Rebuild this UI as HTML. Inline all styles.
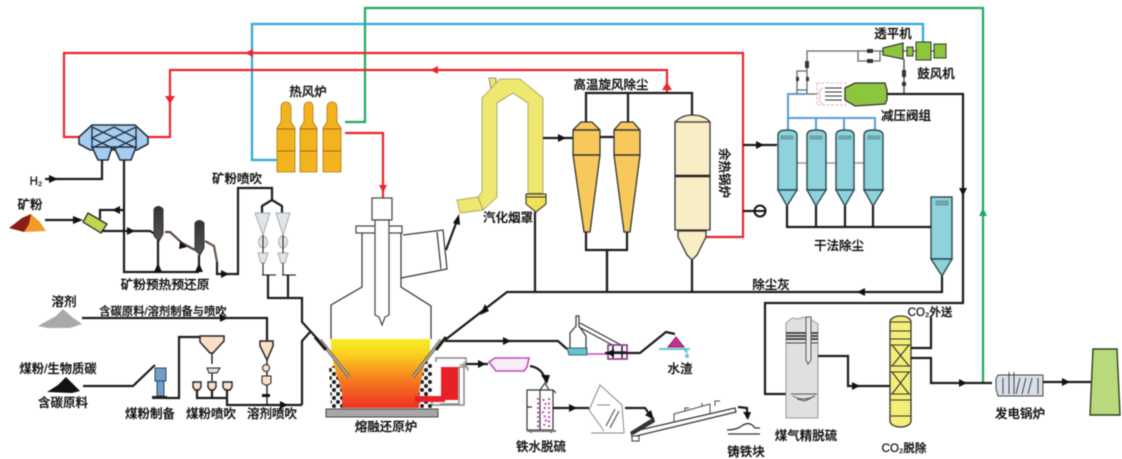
<!DOCTYPE html>
<html lang="zh"><head><meta charset="utf-8"><title>流程图</title>
<style>
html,body{margin:0;padding:0;background:#fff;width:1122px;height:459px;overflow:hidden}
svg{display:block;filter:blur(.6px)}
text{font-family:"Liberation Sans","Noto Sans CJK SC",sans-serif;font-size:12.5px;fill:#111;stroke:#111;stroke-width:.25;text-anchor:middle;font-weight:500}
.k{fill:none;stroke:#1c1c1c;stroke-width:2.2}
.t{fill:none;stroke:#333;stroke-width:1.2}
.g{fill:none;stroke:#666;stroke-width:1.3}
.r{fill:none;stroke:#e8262e;stroke-width:2.2}
.b{fill:none;stroke:#2ea9dc;stroke-width:2.2}
.gr{fill:none;stroke:#21a95c;stroke-width:2.2}
.lb{fill:none;stroke:#5b9bd5;stroke-width:2}
.p{fill:none;stroke:#c04fb0;stroke-width:1.6}
.bag{fill:#8ed2dc;stroke:#2c4a50;stroke-width:1.4}
.cy{fill:#f6c95a;stroke:#333;stroke-width:1.3}
.st{fill:#f2b31f;stroke:#a8791a;stroke-width:.8}
</style></head><body>
<svg width="1122" height="459" viewBox="0 0 1122 459" xmlns="http://www.w3.org/2000/svg">
<defs>
<linearGradient id="melt" x1="0" y1="0" x2="0" y2="1"><stop offset="0" stop-color="#f7ec25"/><stop offset=".2" stop-color="#fad51f"/><stop offset=".55" stop-color="#f6851f"/><stop offset="1" stop-color="#ee3124"/></linearGradient>
<pattern id="chk" width="8" height="8" patternUnits="userSpaceOnUse"><rect width="8" height="8" fill="#fff"/><circle cx="2" cy="2" r="2" fill="#222"/><circle cx="6" cy="6" r="2" fill="#222"/></pattern>
<linearGradient id="gc" x1="0" y1="0" x2="0" y2="1"><stop offset="0" stop-color="#333"/><stop offset="1" stop-color="#555"/></linearGradient>
</defs>

<!-- long utility lines -->
<path class="gr" d="M345 122H365V8H983V383"/>
<polygon points="983,208 979,216 987,216" fill="#21a95c"/>
<path class="b" d="M923 42V24H252V160H278"/>
<path class="r" d="M80 137H64V53H743V237H706"/>
<path class="r" d="M148 137H170V70H667V94"/>
<polygon points="170,104 165,96 175,96" fill="#e8262e"/>
<polygon points="667,82 662,90 672,90" fill="#e8262e"/>
<polygon points="245,53 253,49 253,57" fill="#e8262e"/>
<polygon points="430,70 438,66 438,74" fill="#e8262e"/>
<path class="r" d="M345 133H383V198"/>
<polygon points="383,193 379,185 387,185" fill="#e8262e"/>

<!-- shaft furnace / scrubber -->
<polygon points="92,125 135,125 148,137 148,144 137,150 90,150 79,144 79,137" fill="#a6cdef" stroke="#23303f" stroke-width="1.6"/>
<polygon points="92,147 112,147 108,160 98,160" fill="#a6cdef" stroke="#23303f" stroke-width="1.6"/>
<polygon points="114,147 136,147 131,160 120,160" fill="#a6cdef" stroke="#23303f" stroke-width="1.6"/>
<path d="M92 127L136 148M136 127L92 148M92 138L114 127L136 138L114 149ZM92 126V148M136 126V148" stroke="#23303f" stroke-width="1.4" fill="none"/>

<!-- ore section -->
<text x="36" y="185" style="font-size:11.5px">H₂</text>
<path class="k" d="M45 179H102V160M124 160V272H199"/>
<polygon points="58,179 49,175 49,183" fill="#111"/>
<polygon points="10,228 22,218 31,214 40,222 46,231 24,232" fill="#f29a2e"/>
<polygon points="9,228 22,218 31,214 29,224 24,232" fill="#8a1f17"/>
<text x="30" y="209">矿粉</text>
<path class="k" d="M45 220H80"/><polygon points="83,220 73,216 73,224" fill="#111"/>
<polygon points="88,213 107,224 101,233 83,222" fill="#bdd84e" stroke="#2a2a2a" stroke-width="1.3"/>
<path class="k" d="M100 219V210H124M102 231H150L158 236"/>
<polygon points="112,210 120,206 120,214" fill="#111"/>
<polygon points="135,231 127,227 127,235" fill="#111"/>
<path d="M154 209Q158 204 163 209V234L159 241L154 236Z" fill="url(#gc)" stroke="#333"/>
<path d="M195 223Q199 218 204 223V248L200 255L195 250Z" fill="url(#gc)" stroke="#333"/>
<path class="k" d="M158 240V272M199 255V272"/>
<polygon points="158,263 154,272 162,272" fill="#111"/>
<polygon points="199,263 195,272 203,272" fill="#111"/>
<path d="M165 232H170L182 243L195 250" fill="none" stroke="#5a4640" stroke-width="2.2"/>
<polygon points="187,247 180,241 179,249" fill="#111"/>
<path d="M205 241L214 246L217 262" fill="none" stroke="#6b544c" stroke-width="2.2"/>
<path class="k" d="M217 262V274H238V188H272V200L262 206V213M272 200L282 206V213"/>
<polygon points="229,274 221,270 221,278" fill="#111"/>
<text x="237" y="183">矿粉喷吹</text>
<text x="165" y="289" style="font-size:12.7px">矿粉预热预还原</text>
<g fill="#dfe6ea" stroke="#aaa">
<polygon points="255,213 270,213 263,235"/><polygon points="276,213 290,213 283,235"/>
<ellipse cx="263" cy="242" rx="4.5" ry="6"/><ellipse cx="283" cy="242" rx="4.5" ry="6"/>
<polygon points="258,253 268,253 265,263 261,263"/><polygon points="278,253 288,253 285,263 281,263"/>
</g>
<path class="t" d="M263 235V253M283 235V253M263 263V275M283 263V275M262 275H276M282 275H296"/>
<path class="k" d="M268 275V298M288 275V298M267 298H302V322L323 345M302 405V341L311 331"/>

<!-- flux / coal -->
<polygon points="38,326 56,316 63,309 72,317 82,324 70,328 48,328" fill="#a9a9a9"/>
<text x="64" y="306">溶剂</text>
<text x="163" y="315" style="font-size:11.3px">含碳原料/溶剂制备与喷吹</text>
<path class="k" d="M82 318H267V342"/><polygon points="228,318 220,314 220,322" fill="#111"/>
<text x="58" y="373" style="font-size:12.3px">煤粉/生物质碳</text>
<polygon points="47,392 58,385 66,377 80,391 72,393" fill="#111"/>
<text x="63" y="407">含碳原料</text>
<path class="k" d="M83 386H133L155 365"/>
<rect x="155" y="368" width="11" height="13" fill="#6f9fc8" stroke="#33485c"/>
<rect x="157" y="381" width="7" height="15" fill="#6f9fc8" stroke="#33485c"/>
<rect x="152" y="396" width="15" height="3" fill="#222"/>
<path class="k" d="M165 398H179V337H200"/>
<polygon points="200,336 224,336 224,341 213,353 210,353 200,342" fill="#fbe0c8" stroke="#222" stroke-width="1.5"/>
<path class="k" d="M212 353V364M212 372V381" style="stroke-width:1.4"/>
<path d="M207 368H220L217 373H209Z" fill="#ddd" stroke="#222"/>
<g fill="#fbe0c8" stroke="#222" stroke-width="1.4">
<path d="M193 382H201V387L199 390H195L193 387Z"/><path d="M208 382H216V387L214 390H210L208 387Z"/><path d="M223 382H232V387L230 390H225L223 387Z"/>
</g>
<path class="k" d="M197 390V398H227V405H302M212 390V398M227 390V398"/>
<polygon points="288,405 280,401 280,409" fill="#111"/>
<polygon points="260,341 273,341 273,346 267,360 260,346" fill="#fbe0c8" stroke="#222" stroke-width="1.5"/>
<path class="k" d="M267 360V405" style="stroke-width:1.4"/>
<circle cx="266" cy="368" r="3.5" fill="#fbe0c8" stroke="#222"/>
<path d="M262 376H271V383L268 385H265L262 383Z" fill="#fbe0c8" stroke="#222"/>
<rect x="262" y="394" width="8" height="3" fill="#111"/>
<text x="150" y="418">煤粉制备</text><text x="211" y="418">煤粉喷吹</text><text x="272" y="418">溶剂喷吹</text>

<!-- hot stoves -->
<g class="st">
<path d="M281 108Q281 102 286 102Q291 102 291 108V122L295 128V172H277V128L281 122Z"/>
<path d="M304 108Q304 102 309 102Q313 102 313 108V122L317 128V172H300V128L304 122Z"/>
<path d="M327 108Q327 102 332 102Q337 102 337 108V122L341 128V172H323V128L327 122Z"/>
</g>
<path d="M277 129H295M277 151H295M300 129H317M300 151H317M323 129H341M323 151H341" stroke="#9b6f15" stroke-width="1"/>
<text x="308" y="96">热风炉</text>

<!-- furnace -->
<polygon points="331,339 430,339 430,350 419,408 342,408 331,350" fill="url(#melt)"/>
<path class="t" d="M331 339V305L362 287V233M401 233V287L431 306V339M403 235L443 230L447 269L401 278V287M437 232L441 269" stroke="#444"/>
<rect x="356" y="226" width="46" height="7" fill="#fff" stroke="#444" stroke-width="1.2"/>
<rect x="372" y="198" width="20" height="22" fill="#fff" stroke="#444" stroke-width="1.2"/>
<path d="M375 220H389V315L385 317L382 325L379 317L375 315Z" fill="#fff" stroke="#444" stroke-width="1.2"/>
<path class="k" d="M446 250L458 218"/><polygon points="459,214 453,223 460,225" fill="#111"/>
<polygon points="329,366 334,366 342,392 342,408 331,408" fill="url(#chk)"/>
<polygon points="432,362 425,362 419,392 419,408 432,408" fill="url(#chk)"/>
<rect x="326" y="409" width="112" height="8" fill="#a7a7a7" stroke="#444"/>
<path d="M320 340L349 377M441 340L413 377" stroke="#555" stroke-width="3.4" fill="none"/>
<path d="M320 340L349 377M441 340L413 377" stroke="#c9b69b" stroke-width="1.6" fill="none"/>
<path class="k" d="M315 337L326 350M446 337L436 350" style="stroke-width:3"/>
<text x="386" y="431">熔融还原炉</text>
<!-- ladle -->
<path d="M436 362V358H466V367H459V404H440" fill="none" stroke="#888" stroke-width="1.5"/>
<path d="M436 400H432V405H464V362" fill="none" stroke="#888" stroke-width="1.5"/>
<rect x="441" y="367" width="17" height="33" fill="#ea2027"/>
<rect x="415" y="396" width="30" height="6" fill="#ea2027"/>
<path d="M460 364L468 368V371" fill="#ddd" stroke="#777"/>
<path class="k" d="M466 364H488"/><polygon points="486,364 478,360 478,368" fill="#111"/>

<!-- gas ash line and slag -->
<path class="k" d="M942 276V292H507L445 340"/>
<polygon points="857,292 865,288 865,296" fill="#111"/>
<polygon points="480,313 489,309 485,302" fill="#111" transform="translate(0,2)"/>
<path class="k" d="M535 212V292M607 250V292M692 260V292"/>
<path class="k" d="M445 341H558L567 349"/><polygon points="511,341 503,337 503,345" fill="#111"/>
<polygon points="567,348 587,348 587,355 569,355" fill="#5fc6d0" stroke="#333" stroke-width=".8"/>
<path class="t" d="M570 348V333L576 326V316H579V326L586 336V348M580 323L621 345M579 327L616 347"/>
<rect x="608" y="345" width="19" height="14" fill="#fff" stroke="#8b2f8f" stroke-width="1.6"/>
<path d="M610 352H626M613 346V358M622 346V358" stroke="#222" stroke-width="1.6"/>
<path class="p" d="M587 354H607"/>
<path class="k" d="M605 353H640L666 332L675 334"/><polygon points="606,353 614,349 614,357" fill="#111"/>
<polygon points="668,347 684,347 676,337" fill="#c92f93" stroke="#8a1f6a"/>
<path d="M659 349H690M686 350L687 353M686 351L683 348" stroke="#5fc6d0" stroke-width="2" fill="none"/>
<circle cx="687" cy="356" r="2" fill="#5fc6d0"/>
<text x="680" y="373">水渣</text>

<!-- desulf -->
<polygon points="489,362 495,358 529,358 527,367 524,371 496,371" fill="#f8edf6" stroke="#b94fb4" stroke-width="1.6"/>
<path class="k" d="M530 366Q543 368 546 382"/><polygon points="547,384 541,375 550,375" fill="#111"/>
<path class="t" d="M527 390H553V430H527ZM527 407H532M540 390L545 383L549 390M540 390V430M553 390L556 393" stroke="#777"/>
<path d="M527 431H556M531 431V433M551 431V433" stroke="#777" stroke-width="2"/>
<path d="M538 398V428M549 398V428M543 399L546 405L543 412L546 420L543 428" stroke="#b94fb4" stroke-width="2" stroke-dasharray="2 2.5" fill="none"/>
<text x="541" y="451">铁水脱硫</text>
<path class="k" d="M553 408H589"/><polygon points="577,408 569,404 569,412" fill="#111"/>
<path d="M589 410L600 385L622 405L624 433H591M589 410L604 431M597 405H610" fill="none" stroke="#888" stroke-width="1"/>
<path d="M606 426L615 409M610 428L619 411" stroke="#555" stroke-width="1.2"/>
<path class="k" d="M625 408H645L652 418"/><polygon points="654,420 645,415 651,410" fill="#111"/>
<path d="M631 432L735 408L736 412L632 437Z" fill="#fff" stroke="#333" stroke-width="1.2"/>
<path d="M674 422V414L710 404V413M685 411V408H689M702 406V403M715 406V401H720" fill="none" stroke="#444" stroke-width="1"/>
<path d="M630 432L654 417L655 422L633 435" fill="#333"/>
<rect x="632" y="436" width="7" height="5" fill="#fff" stroke="#333"/>
<path class="k" d="M738 407L747 408L747 418"/><polygon points="748,420 743,412 751,412" fill="#111"/>
<path d="M727 430Q737 430 743 425Q750 421 755 428H760M728 434H760" fill="none" stroke="#333" stroke-width="1.3"/>
<text x="746" y="456">铸铁块</text>

<!-- hood -->
<polygon points="489,78 496,78 496,89 491,90" fill="#eee770" stroke="#777" stroke-width=".8"/>
<path d="M482 98L500 79H520L543 98V193H528V103L513 93L497 103V197L483 210L478 197L482 192Z" fill="#eee770" stroke="#9a9a55" stroke-width=".8"/>
<polygon points="457,200 478,197 483,210 460,213" fill="#eee770" stroke="#9a9a55" stroke-width=".8"/>
<path d="M526 194H546V204L536 212L526 204Z" fill="#f1e05a" stroke="#333" stroke-width="1.1"/>
<path d="M526 197H546" stroke="#333" stroke-width="1"/>
<text x="508" y="222">汽化烟罩</text>
<path class="k" d="M543 138H573M600 137H614"/><polygon points="566,138 558,134 558,142" fill="#111"/>

<!-- cyclones -->
<g class="cy">
<path d="M573 130L581 122H592L600 130V155L590 232H584L573 155Z"/>
<path d="M614 130L621 122H633L640 130V155L630 232H624L614 155Z"/>
</g>
<path d="M573 130H600M614 130H640M573 155H600M614 155H640" stroke="#333" stroke-width="1.4"/>
<path class="k" d="M586 122V93H692V115M628 122V93M586 232V250H627V232M607 250V292"/>
<text x="611" y="89">高温旋风除尘</text>

<!-- boiler -->
<path d="M675 122Q682 115 692 115Q704 115 710 122V230H675Z" fill="#f9edc6" stroke="#333" stroke-width="1.3"/>
<path d="M675 122H710" stroke="#333" stroke-width="1.2"/>
<path d="M678 231H706V237L697 255L692 260L687 255L678 237Z" fill="#f9edc6" stroke="#333" stroke-width="1.3"/>
<path d="M675 176H710" stroke="#222" stroke-width="2.4"/>
<text transform="translate(720,173) rotate(90)" style="font-size:12.5px">余热锅炉</text>
<path class="k" d="M743 145H777M743 211H754"/><polygon points="764,145 756,141 756,149" fill="#111"/>
<circle cx="760" cy="211" r="5.5" fill="#fff" stroke="#111" stroke-width="2"/><path d="M755 211H765" stroke="#111" stroke-width="2"/>

<!-- bag filters -->
<g class="lb"><path d="M805 94H788V118H875V130M816 118V130M844 118V130M788 118V130"/></g>
<path d="M797 163H807M826 163H836M854 163H864" stroke="#999" stroke-width="1.4"/>
<g class="bag">
<path d="M778 135Q778 130 787 130Q797 130 797 135V190H778Z"/>
<path d="M807 135Q807 130 816 130Q826 130 826 135V190H807Z"/>
<path d="M836 135Q836 130 845 130Q854 130 854 135V190H836Z"/>
<path d="M864 135Q864 130 873 130Q883 130 883 135V190H864Z"/>
<polygon points="778,190 797,190 787,206"/>
<polygon points="807,190 826,190 816,206"/>
<polygon points="836,190 854,190 845,206"/>
<polygon points="864,190 883,190 873,206"/>
<rect x="931" y="197" width="21" height="62"/>
<polygon points="931,259 952,259 942,276"/>
</g>
<g fill="#79a9ad" stroke="#4e7e84" stroke-width=".6"><rect x="781" y="136" width="12" height="3"/><rect x="810" y="136" width="12" height="3"/><rect x="839" y="136" width="12" height="3"/><rect x="868" y="136" width="12" height="3"/><rect x="936" y="201" width="12" height="4"/></g>
<path class="k" d="M787 206V227H931M816 206V227M845 206V227M873 206V227"/>
<text x="839" y="250">干法除尘</text>
<text x="771" y="289">除尘灰</text>

<!-- turbine area -->
<path class="g" d="M805 94H818M807 94V51H883M858 51V61H880V51M797 94V71H807M797 71V90H807"/>
<path d="M904 59V94" stroke="#444" stroke-width="1.3"/>
<path class="k" d="M887 94H963V303H765V394H787"/>
<polygon points="963,196 959,188 967,188" fill="#111"/>
<g fill="#333"><rect x="805" y="61" width="4" height="7"/><rect x="902" y="70" width="4" height="7"/><rect x="902" y="82" width="4" height="4"/><rect x="796" y="77" width="3" height="4"/><rect x="806" y="77" width="3" height="4"/><rect x="867" y="49" width="6" height="4"/><rect x="867" y="59" width="6" height="4"/></g>
<rect x="817" y="83" width="29" height="22" fill="none" stroke="#e9b7b7" stroke-dasharray="3 1.5"/>
<path d="M820 96Q818 90 823 88M820 96Q818 102 823 104" stroke="#e9b7b7" fill="none"/>
<path d="M825 88H842M825 92H842M825 96H842M825 100H842" stroke="#333" stroke-width="1.1"/>
<polygon points="845,88 855,83 885,83 887,90 887,100 885,104 855,106 845,100" fill="#8cc63f" stroke="#333" stroke-width="1.3"/>
<polygon points="883,48 903,43 903,59 883,55" fill="#8cc63f" stroke="#333" stroke-width="1.2"/>
<rect x="907" y="47" width="6" height="9" fill="#8cc63f" stroke="#333" stroke-width="1"/>
<rect x="916" y="42" width="15" height="18" fill="#8cc63f" stroke="#333" stroke-width="1"/>
<rect x="934" y="44" width="12" height="14" fill="#8cc63f" stroke="#333" stroke-width="1"/>
<path d="M903 51H907M913 51H916M931 51H934" stroke="#333"/>
<text x="893" y="38">透平机</text><text x="936" y="78">鼓风机</text><text x="906" y="120">减压阀组</text>

<!-- fine desulf -->
<path d="M786 323L792 318L798 319L803 317L812 320L818 324V418H786Z" fill="#e0e0e0" stroke="#999" stroke-width="1"/>
<path d="M786 333H818M786 336H818M786 339H818" stroke="#222" stroke-width="1.5"/>
<path d="M786 343H818" stroke="#444" stroke-width="1"/>
<path d="M806 317H811V360L808 364L806 360Z" fill="#e8e8e8" stroke="#555"/>
<path d="M791 394H817M793 396Q803 402 815 396M797 399L805 401L811 398" stroke="#555" fill="none"/>
<text x="806" y="440">煤气精脱硫</text>
<path class="k" d="M818 356H848V386H890"/><polygon points="860,386 852,382 852,390" fill="#111"/>
<rect x="890" y="316" width="21" height="111" rx="10" ry="6" fill="#f3ee78" stroke="#333" stroke-width="1.3"/>
<path d="M890 322H911M890 331H911M890 339H911M890 345H911M890 366H911M890 372H911M890 394H911M890 400H911M890 416H911M892 345L909 366M909 345L892 366M892 372L909 394M909 372L892 394" stroke="#333" stroke-width="1.1" fill="none"/>
<text x="904" y="452" style="font-size:11.5px">CO₂脱除</text>
<text x="930" y="316" style="font-size:11.5px">CO₂外送</text>
<path class="k" d="M911 348H931V317M911 358H931V383H992"/>
<polygon points="967,383 959,379 959,387" fill="#111"/>
<!-- power boiler -->
<path d="M998 375H1043V396H998L996 389V379Z" fill="#d7dfe8" stroke="#444" stroke-width="1"/>
<path d="M1003 378V394M1009 372V394M1014 372V394M1020 378L1016 394M1026 378L1022 394M1032 378L1028 394M1038 378V394" stroke="#444" stroke-width="1" fill="none"/>
<text x="1020" y="418">发电锅炉</text>
<path class="k" d="M1043 382H1092"/><polygon points="1070,382 1062,378 1062,386" fill="#111"/>
<polygon points="1093,349 1117,349 1120,415 1090,415" fill="#b9da7c" stroke="#2f3f1c" stroke-width="1.4"/>
</svg>
</body></html>
